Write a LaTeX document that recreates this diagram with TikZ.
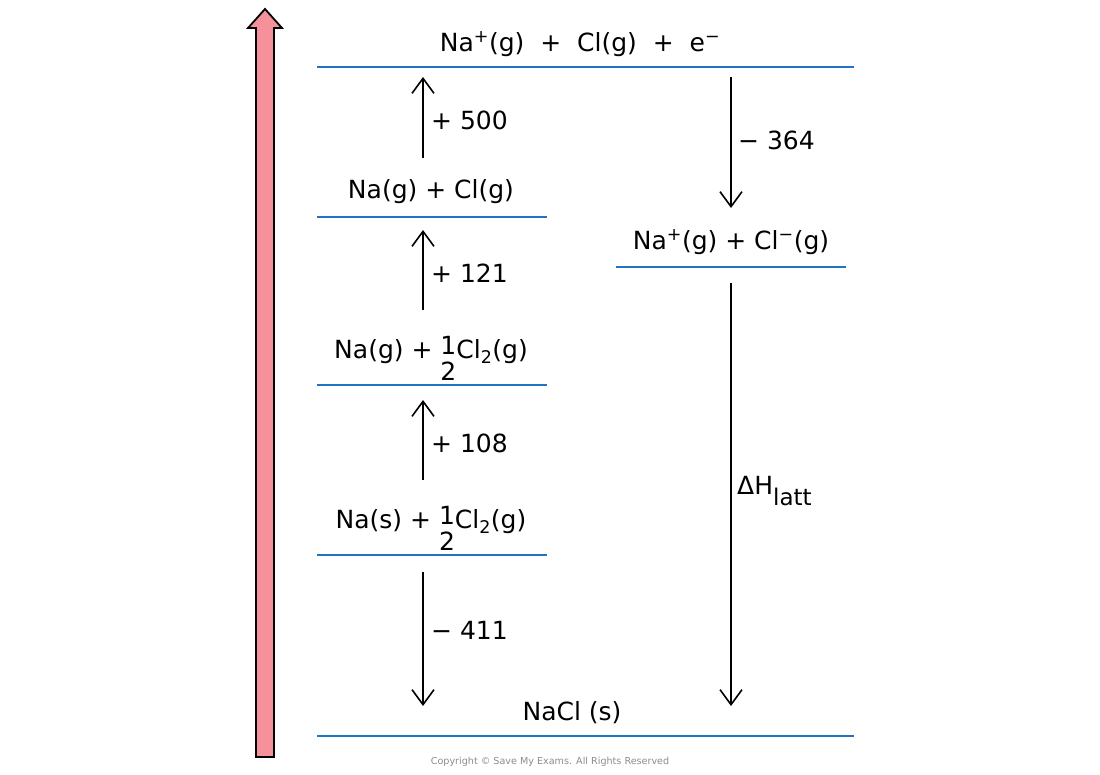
\documentclass[tikz,border=0pt]{standalone}
\usepackage{fontspec}
\setmainfont{DejaVu Sans}
\usetikzlibrary{arrows.meta}
\definecolor{lvl}{HTML}{1F74C4}
\definecolor{pinkf}{HTML}{F4919B}
\newcommand{\hf}{\raisebox{-0.62ex}{\begin{tabular}{@{}c@{}}1\\[-4pt]2\end{tabular}}}
\newcommand{\sbx}[1]{\raisebox{-0.85ex}{\fontsize{23}{26}\selectfont #1}}
\begin{document}
\begin{tikzpicture}[x=1pt,y=-1pt,
  level/.style={draw=lvl,line width=2.8pt},
  lab/.style={font=\fontsize{25}{30}\selectfont,inner sep=0pt},
  val/.style={font=\fontsize{25}{30}\selectfont,inner sep=0pt,anchor=west},
  arr/.style={line width=1.6pt,-{Straight Barb[length=15pt,width=22pt,line width=1.6pt]}}]
\useasboundingbox (0,0) rectangle (1100,774);
% pink arrow
\draw[fill=pinkf,line width=1.8pt,line join=miter]
  (256,757) -- (256,28) -- (248,28) -- (265,9) -- (282,28) -- (274,28) -- (274,757) -- cycle;
% levels
\draw[level] (317,67) -- (854,67);
\draw[level] (317,217) -- (547,217);
\draw[level] (616,267) -- (846,267);
\draw[level] (317,385) -- (547,385);
\draw[level] (317,555) -- (547,555);
\draw[level] (317,736) -- (854,736);
% labels
\node[lab] (L1) at (580,44) {Na\textsuperscript{+}(g)\ \ +\ \ Cl(g)\ \ +\ \ e\textsuperscript{−}};
\node[lab] (L2) at (431,192) {Na(g) + Cl(g)};
\node[lab] (L3) at (731,242) {Na\textsuperscript{+}(g) + Cl\textsuperscript{−}(g)};
\node[lab] (L4) at (431,361) {Na(g)\ + \hf Cl\textsubscript{2}(g)};
\node[lab] (L5) at (431,531) {Na(s)\ + \hf Cl\textsubscript{2}(g)};
\node[lab] (L6) at (572,713) {NaCl (s)};
% arrows
\coordinate (a1s) at (423,158); \coordinate (a1e) at (423,77);
\coordinate (a2s) at (423,310); \coordinate (a2e) at (423,230);
\coordinate (a3s) at (423,480); \coordinate (a3e) at (423,400);
\coordinate (a4s) at (423,572); \coordinate (a4e) at (423,706);
\coordinate (a5s) at (731,77);  \coordinate (a5e) at (731,208);
\coordinate (a6s) at (731,283); \coordinate (a6e) at (731,706);
\draw[arr] (a1s) -- (a1e);
\draw[arr] (a2s) -- (a2e);
\draw[arr] (a3s) -- (a3e);
\draw[arr] (a4s) -- (a4e);
\draw[arr] (a5s) -- (a5e);
\draw[arr] (a6s) -- (a6e);
\node[val] (v1) at (431,120) {+ 500};
\node[val] (v2) at (431,273) {+ 121};
\node[val] (v3) at (431,443) {+ 108};
\node[val] (v4) at (431,630) {− 411};
\node[val] (v5) at (738,140) {− 364};
\node[val] (v6) at (737,491) {ΔH\sbx{latt}};
\node[font=\fontsize{9.6}{12}\selectfont,text=black!45,inner sep=0pt] (cp) at (550,762) {Copyright © Save My Exams. All Rights Reserved};
\end{tikzpicture}
\end{document}
